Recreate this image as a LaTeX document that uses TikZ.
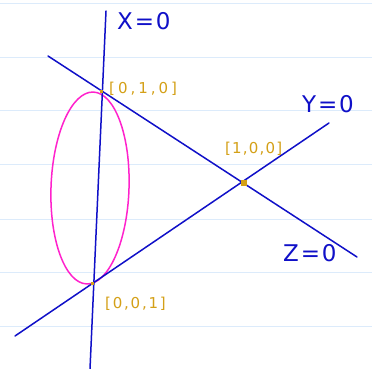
\documentclass[tikz,border=0pt]{standalone}
\usepackage{fontspec}
\setmainfont{DejaVu Sans}
\definecolor{inkblue}{HTML}{1010C8}
\definecolor{inkpink}{HTML}{FF22CC}
\definecolor{inkgold}{HTML}{D4A017}
\definecolor{ruled}{HTML}{DCEBFB}
\begin{document}
\begin{tikzpicture}[x=1pt,y=-1pt,
  blueline/.style={draw=inkblue,line width=1.5pt,line cap=round},
  conic/.style={draw=inkpink,line width=1.5pt},
  rule/.style={draw=ruled,line width=0.8pt},
  eqlabel/.style={text=inkblue,font=\fontsize{23}{23}\selectfont\addfontfeature{LetterSpace=8},inner sep=0pt,anchor=west},
  ptlabel/.style={text=inkgold,font=\fontsize{15}{15}\selectfont\addfontfeature{LetterSpace=#1},inner sep=0pt,anchor=west},
  ptdot/.style={fill=inkgold,draw=none,minimum size=6pt,inner sep=0pt,shape=rectangle}]
\useasboundingbox (0,0) rectangle (372,369);
\fill[white] (0,0) rectangle (372,369);
\foreach \yy in {3,57,110,164,219,272,326}
  \draw[rule] (0,\yy) -- (372,\yy);
% end points of lines
\coordinate (xtop) at (106,11);
\coordinate (xbot) at (90,369);
\coordinate (ztop) at (48,56);
\coordinate (zbot) at (357,257);
\coordinate (ybot) at (15,336);
\coordinate (ytop) at (329,123);
% conic
\draw[conic,rotate around={-2:(90,188)}] (90,188) ellipse [x radius=39, y radius=96];
% lines
\draw[blueline] (xtop) -- (xbot);
\draw[blueline] (ztop) -- (zbot);
\draw[blueline] (ybot) -- (ytop);
% points
\node[ptdot] (p100) at (244,183) {};
\node[ptdot,minimum size=3pt] (p010) at (101,91) {};
\node[ptdot,minimum size=3pt] (p001) at (92,283) {};
% labels
\node[eqlabel] (lx) at (117,21) {X=0};
\node[eqlabel] (ly) at (302,104) {Y=0};
\node[eqlabel] (lz) at (283,253) {Z=0};
\node[ptlabel=20] (l010) at (109,89) {[0,1,0]};
\node[ptlabel=8] (l100) at (225,149) {[1,0,0]};
\node[ptlabel=12] (l001) at (105,304) {[0,0,1]};
\end{tikzpicture}
\end{document}
